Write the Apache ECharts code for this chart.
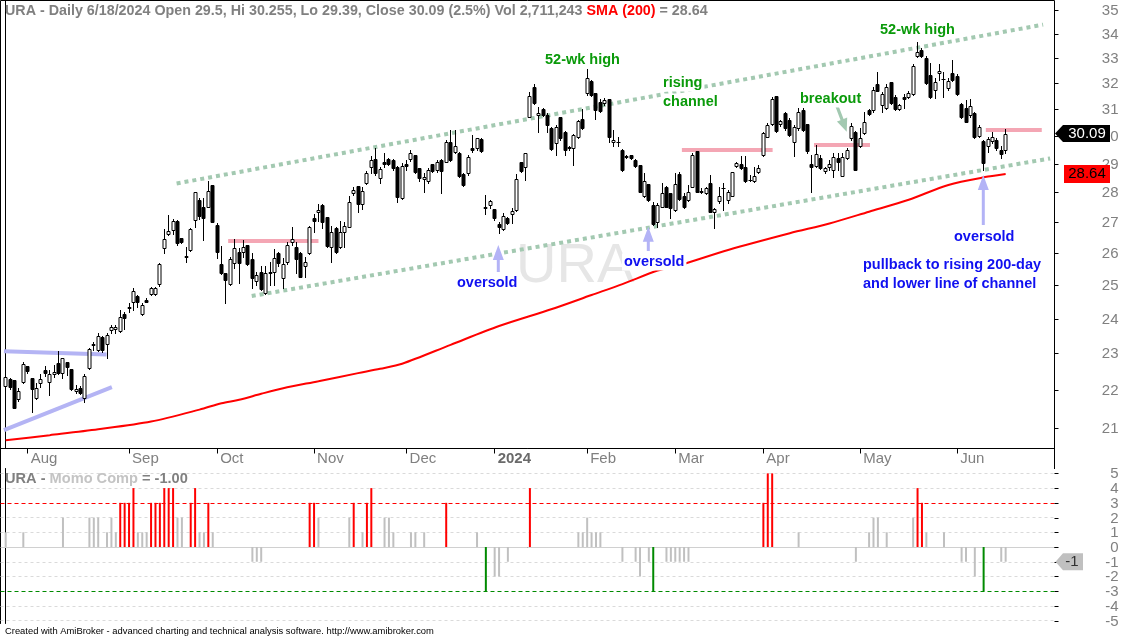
<!DOCTYPE html>
<html><head><meta charset="utf-8">
<script src="https://cdn.jsdelivr.net/npm/echarts@6/dist/echarts.min.js"></script>
<style>html,body{margin:0;padding:0;background:#fff}#c{width:1123px;height:637px}</style>
</head><body><div id="c"></div>
<script>
// ---------------- DATA ----------------
const open = [22.10,22.29,22.25,21.76,22.20,22.65,22.31,21.77,22.18,22.54,
22.20,22.43,22.73,22.45,22.75,22.56,21.97,22.04,21.77,22.59,
23.23,23.10,23.45,23.27,23.67,23.70,23.64,24.13,24.35,24.49,
24.67,24.13,24.55,24.72,24.72,25.02,26.16,26.61,26.75,27.04,
26.48,25.87,26.10,27.07,27.75,27.52,27.52,28.25,26.91,25.66,
25.37,25.02,25.70,26.04,26.02,26.26,25.82,25.14,25.40,24.75,
25.37,25.39,25.99,25.21,25.71,26.35,26.19,25.99,25.60,25.99,
27.15,27.33,27.58,27.16,26.19,26.80,26.19,26.67,26.85,27.97,
28.23,27.61,28.34,28.88,29.17,28.49,29.06,29.17,29.14,28.90,
27.80,28.98,29.16,29.31,28.84,28.47,28.40,28.98,28.78,29.14,
29.07,29.79,29.43,29.37,28.63,28.67,29.56,29.56,29.89,27.52,
27.56,27.43,26.94,26.77,27.13,27.27,27.39,29.05,28.90,30.72,
31.85,30.78,31.01,30.78,30.28,29.74,30.69,30.16,29.59,29.56,
29.95,30.65,31.61,32.10,31.61,31.29,31.23,31.38,29.79,29.80,
29.50,29.28,29.31,29.13,28.96,27.88,28.29,27.58,27.00,27.52,
28.20,27.97,27.39,28.64,27.88,27.75,28.20,29.45,28.04,27.97,
28.32,27.33,27.71,28.16,27.75,27.89,28.93,28.98,28.90,28.44,
28.40,28.72,29.31,29.97,30.45,31.51,30.45,30.85,30.60,29.77,
30.29,30.97,30.45,28.98,28.93,29.19,28.75,28.90,28.78,29.22,
28.58,29.19,29.92,30.14,29.65,30.10,30.97,30.97,31.96,31.16,
31.03,32.04,31.48,31.00,31.46,31.48,31.59,33.10,33.33,33.02,
32.33,31.74,32.40,32.15,31.80,32.40,32.30,31.19,31.03,30.78,
30.87,30.01,29.82,29.64,29.82,29.86,29.50,29.5];
const high = [22.52,22.32,22.27,22.04,22.76,22.66,22.33,22.18,22.43,22.66,
22.54,22.68,23.07,22.88,22.77,22.57,22.12,22.10,22.43,23.14,
23.31,23.57,23.48,23.57,23.81,23.81,24.25,24.20,24.45,24.90,
24.70,24.45,24.60,24.95,24.93,25.68,26.77,27.24,27.10,27.06,
26.49,26.21,26.80,28.03,27.80,27.80,28.40,28.27,26.96,26.23,
25.38,25.86,26.45,26.16,26.42,26.27,25.99,25.42,25.58,25.58,
25.73,26.12,26.04,25.84,26.37,26.85,26.37,26.04,25.89,26.88,
27.28,27.61,27.61,27.18,26.88,26.85,27.05,27.02,27.89,28.20,
28.24,28.20,28.75,29.29,29.58,28.88,29.38,29.20,29.16,28.92,
29.02,29.13,29.49,29.33,28.86,28.67,28.84,29.00,29.13,29.16,
29.86,30.22,30.22,29.42,28.66,29.32,30.04,29.94,29.93,27.92,
27.75,27.44,27.02,27.30,27.18,27.47,28.63,29.07,29.40,31.68,
31.97,31.10,31.03,30.85,30.35,30.41,30.71,30.19,29.62,30.07,
30.60,31.00,32.56,32.12,31.63,31.38,31.44,31.39,30.22,29.97,
29.52,29.32,29.33,29.17,28.97,28.67,28.30,27.69,27.65,28.34,
28.23,27.98,28.69,28.72,27.97,28.26,29.37,29.46,28.15,28.20,
28.61,27.48,28.20,28.32,28.09,28.72,29.07,29.26,29.26,28.61,
28.90,28.96,30.16,30.47,31.48,31.52,30.60,30.91,30.67,30.41,
31.05,31.03,30.46,29.31,29.67,29.31,28.90,29.14,29.38,29.38,
29.39,29.57,30.48,30.19,30.30,30.91,31.01,31.86,32.46,31.66,
31.97,32.06,31.55,31.20,31.59,31.71,32.77,33.66,33.41,33.09,
32.81,32.21,32.77,32.45,32.21,32.92,32.37,31.24,31.35,31.39,
30.91,30.41,29.86,29.97,30.15,29.93,29.64,30.255];
const low = [21.92,22.03,21.50,21.70,22.18,22.45,21.42,21.75,22.06,22.36,
21.86,22.34,22.43,22.31,22.41,21.99,21.92,21.88,21.68,22.57,
23.10,23.07,23.05,22.86,23.58,23.58,23.62,23.69,24.20,24.25,
24.35,24.09,24.48,24.70,24.70,24.98,26.01,26.58,26.60,26.27,
26.31,25.73,26.08,26.85,27.12,26.42,27.50,27.00,25.84,25.33,
24.47,25.00,25.52,25.08,25.86,25.62,24.90,25.00,24.85,24.73,
25.00,25.00,25.60,24.90,25.66,26.26,25.37,25.24,25.26,25.97,
26.69,27.05,26.80,26.21,25.73,26.00,26.15,26.19,26.83,27.92,
27.35,27.44,28.29,28.67,28.61,28.32,28.90,28.95,28.78,27.69,
27.78,28.78,29.10,28.67,28.40,28.00,28.33,28.70,28.72,27.99,
29.06,29.10,29.38,28.54,28.23,28.61,29.43,29.50,29.42,27.28,
27.47,27.07,26.64,26.75,26.94,26.96,27.38,28.71,28.44,30.71,
31.20,30.16,30.75,30.15,29.50,29.32,29.86,29.32,29.50,28.96,
29.93,30.25,31.55,31.50,30.63,30.90,31.16,29.77,29.64,29.64,
28.75,29.20,29.17,28.89,28.02,27.85,27.72,26.92,26.85,27.51,
27.51,27.13,27.38,27.75,27.48,27.72,28.19,28.02,27.97,27.95,
27.34,26.80,27.65,27.41,27.65,27.88,28.89,28.82,28.37,28.40,
28.37,28.68,29.29,29.96,30.41,30.15,30.37,30.22,30.00,29.26,
30.22,30.19,29.40,28.03,28.89,28.80,28.68,28.78,28.55,28.78,
28.57,29.17,29.86,28.77,29.60,30.07,30.78,30.91,31.70,30.91,
31.01,31.20,30.97,30.97,31.05,31.43,31.55,33.04,33.04,31.97,
31.43,31.43,32.13,31.45,31.74,32.09,31.55,30.67,30.51,30.72,
29.93,29.96,28.78,29.43,29.75,29.50,29.20,29.39];
const close = [22.34,22.07,21.52,21.97,22.70,22.52,22.01,22.04,22.29,22.45,
22.42,22.47,22.45,22.86,22.63,22.02,22.01,21.91,22.36,23.12,
23.27,23.48,23.08,23.53,23.76,23.75,24.04,24.01,24.30,24.83,
24.49,24.40,24.49,24.90,24.90,25.65,26.45,26.71,27.05,26.32,
26.34,25.91,26.77,28.01,27.19,27.13,28.05,27.02,26.04,25.37,
25.16,25.82,26.16,25.70,26.20,25.66,25.21,25.32,24.87,25.37,
25.42,25.84,25.68,25.66,26.26,26.46,25.80,25.26,25.73,26.83,
27.05,27.41,27.00,26.24,26.67,26.05,26.67,26.88,27.67,28.09,
27.61,28.05,28.69,29.14,28.67,28.81,29.00,29.00,28.84,27.86,
28.92,28.92,29.37,28.72,28.49,28.53,28.78,28.75,29.07,28.75,
29.79,29.14,29.65,28.57,28.26,29.25,29.50,29.92,29.44,27.47,
27.71,27.13,26.85,27.21,26.96,27.38,28.47,28.75,29.38,31.51,
31.23,30.86,30.78,30.41,29.52,30.35,29.92,29.50,29.56,30.04,
30.56,30.30,32.20,31.55,30.97,30.94,31.36,29.97,29.86,29.79,
28.78,29.24,29.19,28.92,28.03,28.38,27.75,26.94,27.56,27.99,
27.52,27.47,28.29,27.77,27.52,28.01,29.33,28.03,28.03,28.15,
27.35,27.43,27.88,28.17,28.03,28.70,29.02,28.84,28.38,28.43,
28.57,28.84,30.12,30.41,31.38,30.19,30.55,30.29,30.04,30.35,
30.91,30.22,29.45,28.90,29.35,28.84,28.84,28.98,29.25,29.05,
29.25,29.50,30.38,28.78,29.92,30.53,30.82,31.74,31.71,31.59,
31.87,31.23,31.00,31.15,31.41,31.63,32.70,33.25,33.10,32.00,
31.46,32.04,32.49,32.16,32.09,32.13,31.59,30.72,30.53,31.13,
29.95,30.33,29.02,29.89,29.95,29.56,29.36,30.09];

// SMA(200) read at sampled bars
const smaIdx = [0,10,21,33,44,49,53,58,63,71,80,85,90,101,112,124,133,140,148,153,164,178,187,196,205,214,223,227];
const smaVal = [20.68,20.81,20.96,21.16,21.47,21.64,21.73,21.89,22.04,22.23,22.45,22.57,22.71,23.24,23.78,24.28,24.70,25.03,25.45,25.62,26.10,26.64,26.96,27.35,27.75,28.26,28.55,28.64];

// Momentum composite (non-zero bars only)
const momoIdx = [0,4,13,19,20,21,23,24,25,26,27,28,29,30,31,32,33,34,35,36,37,38,39,40,42,43,44,45,46,47,
56,57,58,69,70,71,78,79,81,82,83,86,87,88,92,93,95,100,107,109,111,112,114,119,
130,131,132,133,134,135,140,143,144,146,147,150,151,152,153,154,155,172,173,174,180,
193,196,197,198,200,206,207,208,209,213,217,218,220,222,226,227];
const momoVal = [1,1,2,2,2,2,1,2,1,3,3,3,4,1,1,1,3,3,3,4,4,4,2,2,3,4,1,1,3,1,
-1,-1,-1,3,3,2,2,3,1,3,4,2,2,1,1,1,1,3,1,-3,-2,-2,-1,4,
1,1,2,1,1,1,-1,-1,-2,-1,-3,-1,-1,-1,-1,-1,-1,3,5,5,1,
-1,1,2,2,1,2,4,3,1,1,-1,-1,-2,-3,-1,-1];

const monthIdx = [5,28,48,70,91,111,132,152,172,194,216];
const monthLabels = ['Aug','Sep','Oct','Nov','Dec','2024','Feb','Mar','Apr','May','Jun'];
const priceTicks = [21,22,23,24,25,26,27,28,29,30,31,32,33,34,35];
const momoTicks = [5,4,3,2,1,0,-1,-2,-3,-4,-5];
const momoOverbought = 3, momoOversold = -3;
const volumeText = '2,711,243';

// hand-drawn annotation lines in data space [barIndex, price]
const channelLines = [[[38.8,28.31],[235.5,34.38]], [[55.85,24.67],[237.1,29.19]]];
const levelLines = [[[50.5,26.39],[71.0,26.39]], [[153.5,29.50],[174.1,29.50]], [[183.5,29.68],[196.2,29.68]], [[222.5,30.25],[235.2,30.25]]];
const triangleLines = [[[-0.4,23.06],[22.9,22.97]], [[-0.4,20.94],[24.1,22.07]]];

// ---------------- CHART ----------------
const FONT = '"Liberation Sans", Arial, Helvetica, sans-serif';
const GRAY = '#808080';
const N = close.length;
const X_MIN = -1.1805, X_MAX = 238.09;
const chart = echarts.init(document.getElementById('c'), null, {renderer: 'canvas', width: 1123, height: 637});

const pct = ((close[N-1] / close[N-2] - 1) * 100).toFixed(1);
const header = `URA - Daily 6/18/2024 Open ${open[N-1]}, Hi ${high[N-1]}, Lo ${low[N-1]}, Close ${close[N-1]} (${pct}%) Vol ${volumeText} `;
const lastSma = smaVal[smaVal.length-1];
const lastMomo = momoVal[momoVal.length-1];

const momoColor = v => v >= momoOverbought ? '#ff0000' : (v <= momoOversold ? '#008a00' : '#c0c0c0');

function tickSeries(xAxisIndex, yAxisIndex, values, fmt) {
  return {
    type: 'custom', xAxisIndex, yAxisIndex, silent: true, clip: false, z: 10, animation: false,
    data: values.map(v => [0, v]),
    renderItem(params, api) {
      const v = api.value(1);
      const y = Math.round(api.coord([0, v])[1]) + 0.5;
      const x0 = params.coordSys.x + params.coordSys.width;
      return {type: 'group', children: [
        {type: 'line', shape: {x1: x0, y1: y, x2: x0 + 4, y2: y}, style: {stroke: '#000', lineWidth: 1}},
        {type: 'text', style: {text: fmt(v), x: x0 + 64, y: y, align: 'right', verticalAlign: 'middle',
          textAlign: 'right', textVerticalAlign: 'middle', fill: GRAY, font: '15px ' + FONT}}
      ]};
    }
  };
}
function hLineSeries(values, style) {
  return {type: 'line', xAxisIndex: 1, yAxisIndex: 1, data: [], z: 1, silent: true,
    markLine: {silent: true, symbol: ['none', 'none'], label: {show: false}, animation: false,
      lineStyle: style, data: values.map(v => ({yAxis: v}))}};
}

const lineItem = (seg, style) => [{coord: seg[0], lineStyle: style}, {coord: seg[1]}];

const option = {
  animation: false,
  backgroundColor: '#fff',
  title: [
    {left: 5, top: 4, padding: 0, text: `{g|${header}}{r|SMA (200)}{g| = ${lastSma.toFixed(2)}}`,
      textStyle: {rich: {g: {color: GRAY, fontSize: 14.3, fontFamily: FONT}, r: {color: '#ff0000', fontSize: 14.3, fontFamily: FONT}}}},
    {left: 5, top: 471.5, padding: 0, text: `{g|URA - }{l|Momo Comp}{g| = ${lastMomo.toFixed(2)}}`,
      textStyle: {rich: {g: {color: GRAY, fontSize: 14.6, fontFamily: FONT}, l: {color: '#c4c4c4', fontSize: 14.6, fontFamily: FONT}}}},
    {left: 5, top: 627, padding: 0, text: 'Created with AmiBroker - advanced charting and technical analysis software. http://www.amibroker.com',
      textStyle: {color: '#000', fontSize: 9.4, fontWeight: 'normal', fontFamily: FONT}}
  ],
  grid: [
    {left: 0.5, top: 0.5, width: 1054, height: 448, show: true, borderColor: '#000', borderWidth: 1, backgroundColor: 'transparent'},
    {left: 0.5, top: 468.5, width: 1054, height: 155, show: false}
  ],
  xAxis: [
    {gridIndex: 0, type: 'value', min: X_MIN, max: X_MAX, position: 'bottom',
      axisLine: {show: true, lineStyle: {color: '#000'}},
      axisTick: {show: true, customValues: monthIdx, length: 5, lineStyle: {color: '#000'}},
      axisLabel: {show: true, customValues: monthIdx, color: GRAY, fontSize: 15, fontFamily: FONT, align: 'left', margin: 3, lineHeight: 15, padding: [0,0,0,3],
        formatter: v => { const k = monthIdx.indexOf(Math.round(v)); if (k < 0) return ''; const t = monthLabels[k]; return /^\d{4}$/.test(t) ? '{y|' + t + '}' : t; },
        rich: {y: {fontWeight: 'bold', color: '#6a6a6a', fontSize: 15, fontFamily: FONT, lineHeight: 15}}},
      splitLine: {show: false}},
    {gridIndex: 1, type: 'value', min: X_MIN, max: X_MAX, position: 'top',
      axisLine: {show: true, lineStyle: {color: '#000'}}, axisTick: {show: false}, axisLabel: {show: false}, splitLine: {show: false}}
  ],
  yAxis: [
    {gridIndex: 0, type: 'log', logBase: 10, min: 20.473, max: 35.41, position: 'right',
      axisLine: {show: true, lineStyle: {color: '#000'}}, axisTick: {show: false}, axisLabel: {show: false}, splitLine: {show: false}},
    {gridIndex: 1, type: 'value', min: -5.19, max: 5.33, position: 'right',
      axisLine: {show: true, lineStyle: {color: '#000'}}, axisTick: {show: false}, axisLabel: {show: false}, splitLine: {show: false}},
    {gridIndex: 1, type: 'value', min: -5.19, max: 5.33, position: 'left',
      axisLine: {show: true, lineStyle: {color: '#000'}}, axisTick: {show: false}, axisLabel: {show: false}, splitLine: {show: false}}
  ],
  series: [
    // annotation lines (below candles)
    {type: 'line', xAxisIndex: 0, yAxisIndex: 0, data: [], z: 2, silent: true,
      markLine: {silent: true, symbol: ['none', 'none'], label: {show: false}, animation: false,
        data: [].concat(
          channelLines.map(s => lineItem(s, {color: '#a3c9b1', width: 4, type: [4, 4], cap: 'butt'})),
          levelLines.map(s => lineItem(s, {color: '#f4a6b4', width: 4, type: 'solid'})),
          triangleLines.map(s => lineItem(s, {color: '#b4b4f4', width: 4, type: 'solid'}))
        )}},
    // candles
    {type: 'custom', name: 'URA', xAxisIndex: 0, yAxisIndex: 0, z: 5, clip: false, animation: false,
      data: close.map((c, i) => [i, open[i], c, low[i], high[i]]),
      renderItem(params, api) {
        const i = api.value(0), o = api.value(1), c = api.value(2), l = api.value(3), h = api.value(4);
        const pO = api.coord([i, o]), pC = api.coord([i, c]), pH = api.coord([i, h]), pL = api.coord([i, l]);
        const n = Math.floor(pO[0]); const x = n + 0.5;
        const t = Math.round(Math.min(pO[1], pC[1])), b = Math.round(Math.max(pO[1], pC[1]));
        const ch = [{type: 'line', shape: {x1: x, y1: Math.round(pH[1]), x2: x, y2: Math.round(pL[1]) + 1}, style: {stroke: '#000', lineWidth: 1}}];
        if (b - t < 1) ch.push({type: 'line', shape: {x1: x - 2, y1: t + 0.5, x2: x + 2, y2: t + 0.5}, style: {stroke: '#000', lineWidth: 1}});
        else ch.push({type: 'rect', shape: {x: x - 1.5, y: t + 0.5, width: 3, height: b - t}, style: {fill: c >= o ? '#fff' : '#000', stroke: '#000', lineWidth: 1}});
        return {type: 'group', children: ch};
      }},
    // SMA 200
    {type: 'line', name: 'SMA (200)', xAxisIndex: 0, yAxisIndex: 0, z: 6, showSymbol: false, symbol: 'none', silent: true, smooth: 0.3,
      data: smaIdx.map((k, j) => [k, smaVal[j]]), lineStyle: {color: '#ff0000', width: 2}},
    // momo panel grid lines
    hLineSeries(momoTicks.filter(v => v !== 0 && v !== momoOverbought && v !== momoOversold), {color: '#dadada', type: [3, 3], width: 1}),
    hLineSeries([0], {color: '#d0d0d0', type: 'solid', width: 1}),
    hLineSeries([momoOverbought], {color: '#ff0000', type: [4, 3], width: 1}),
    hLineSeries([momoOversold], {color: '#008a00', type: [4, 3], width: 1}),
    // momo bars
    {type: 'bar', name: 'Momo Comp', xAxisIndex: 1, yAxisIndex: 1, barWidth: 2, z: 5, silent: true,
      data: momoIdx.map((k, j) => ({value: [k, momoVal[j]], itemStyle: {color: momoColor(momoVal[j])}}))},
    tickSeries(0, 0, priceTicks, v => String(v)),
    tickSeries(1, 1, momoTicks, v => String(v))
  ]
};
chart.setOption(option);

// ---------- annotations & value tags ----------
const yClose = chart.convertToPixel({yAxisIndex: 0}, close[N-1]);
const ySma = chart.convertToPixel({yAxisIndex: 0}, lastSma);
const yMomo = chart.convertToPixel({yAxisIndex: 1}, lastMomo);

const GREEN = '#0a9a0a', BLUE = '#1010f0', LAV = '#b3b3f6';
const notes = [
  ['52-wk high', 543, 60, GREEN], ['rising', 661, 83, GREEN], ['channel', 661, 102, GREEN],
  ['breakout', 798, 99, GREEN], ['52-wk high', 878, 29.5, GREEN],
  ['oversold', 455, 283, BLUE], ['oversold', 622, 262, BLUE], ['oversold', 952, 237, BLUE],
  ['pullback to rising 200-day', 861, 265, BLUE], ['and lower line of channel', 861, 284, BLUE]
];
function arrowPts(tx, ty, px, py, head, hw, sw) {
  const L = Math.hypot(px - tx, py - ty), dx = (px - tx) / L, dy = (py - ty) / L, nx = -dy, ny = dx;
  const bx = px - dx * head, by = py - dy * head;
  return [[px, py], [bx + nx * hw, by + ny * hw], [bx + nx * sw, by + ny * sw], [tx + nx * sw, ty + ny * sw],
          [tx - nx * sw, ty - ny * sw], [bx - nx * sw, by - ny * sw], [bx - nx * hw, by - ny * hw]];
}
const els = [];
els.push({type: 'text', x: 516, y: 267, z: 0, silent: true, style: {text: 'URA', font: '56px ' + FONT, fill: '#e6e6e6', verticalAlign: 'middle', textVerticalAlign: 'middle'}});
notes.forEach(n => els.push({type: 'text', x: n[1], y: n[2], z: 100, silent: true,
  style: {text: n[0], font: 'bold 14.5px ' + FONT, fill: n[3], verticalAlign: 'middle', textVerticalAlign: 'middle', backgroundColor: '#fff', padding: [1, 2, 1, 2]}}));
[[498.3, 272, 245], [648.3, 251, 226.7], [983.3, 225, 175]].forEach(a =>
  els.push({type: 'polygon', z: 90, silent: true, shape: {points: arrowPts(a[0], a[1], a[0], a[2], 15, 5.5, 1.5)}, style: {fill: LAV}}));
els.push({type: 'polygon', z: 90, silent: true, shape: {points: arrowPts(836.5, 105, 846.7, 131.7, 13, 5.5, 1.6)}, style: {fill: '#a3c9b1'}});
// value tags
els.push({type: 'polygon', z: 110, silent: true, shape: {points: [[1055, yClose], [1063, yClose - 8.5], [1110, yClose - 8.5], [1110, yClose + 8.5], [1063, yClose + 8.5]]}, style: {fill: '#000'}});
els.push({type: 'text', x: 1087, y: yClose, z: 111, silent: true, style: {text: close[N-1].toFixed(2), font: '15px ' + FONT, fill: '#fff', align: 'center', verticalAlign: 'middle', textAlign: 'center', textVerticalAlign: 'middle'}});
els.push({type: 'rect', z: 110, silent: true, shape: {x: 1064, y: ySma - 9, width: 46, height: 18}, style: {fill: '#ff0000'}});
els.push({type: 'text', x: 1087, y: ySma, z: 111, silent: true, style: {text: lastSma.toFixed(2), font: '15px ' + FONT, fill: '#000', align: 'center', verticalAlign: 'middle', textAlign: 'center', textVerticalAlign: 'middle'}});
els.push({type: 'polygon', z: 110, silent: true, shape: {points: [[1055.5, yMomo], [1063, yMomo - 8.5], [1083, yMomo - 8.5], [1083, yMomo + 8.5], [1063, yMomo + 8.5]]}, style: {fill: '#c0c0c0'}});
els.push({type: 'text', x: 1072, y: yMomo, z: 111, silent: true, style: {text: String(lastMomo), font: '15px ' + FONT, fill: '#303030', align: 'center', verticalAlign: 'middle', textAlign: 'center', textVerticalAlign: 'middle'}});
// strip side borders
els.push({type: 'line', z: 50, silent: true, shape: {x1: 0.5, y1: 448, x2: 0.5, y2: 469}, style: {stroke: '#000', lineWidth: 1}});
els.push({type: 'line', z: 50, silent: true, shape: {x1: 1054.5, y1: 448, x2: 1054.5, y2: 469}, style: {stroke: '#000', lineWidth: 1}});
chart.setOption({graphic: {elements: els}});
</script></body></html>
